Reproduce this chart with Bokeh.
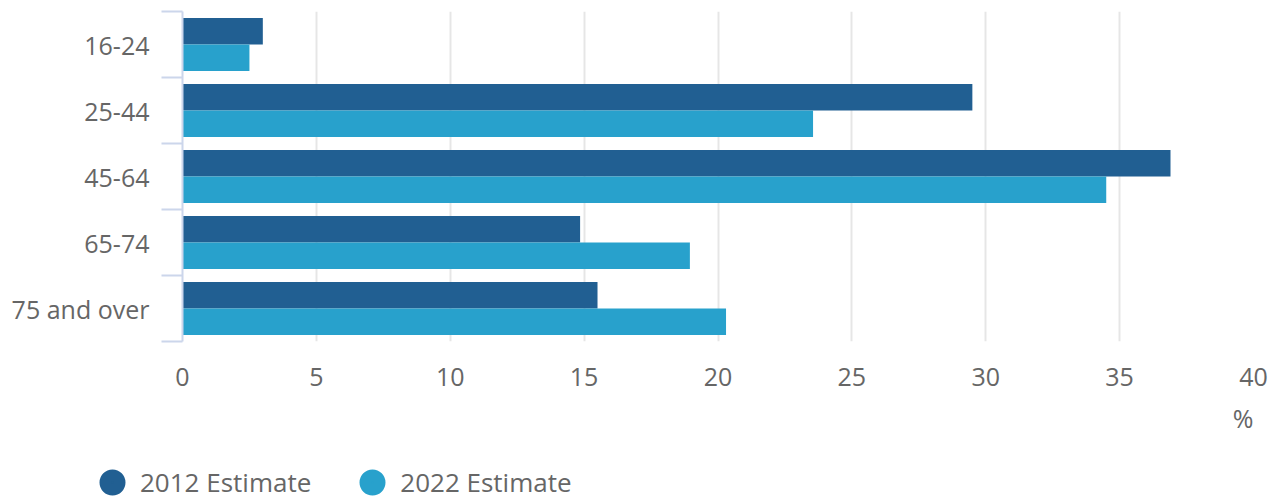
from bokeh.plotting import figure
from bokeh.models import Range1d, FixedTicker, ColumnDataSource, Legend, LegendItem, LinearAxis, Title
from bokeh.layouts import column
from bokeh.transform import dodge
from bokeh.embed import file_html
from bokeh.resources import INLINE

categories = ["16-24", "25-44", "45-64", "65-74", "75 and over"]
est_2012 = [3.0, 29.5, 36.9, 14.85, 15.5]
est_2022 = [2.5, 23.55, 34.5, 18.95, 20.3]
x_ticks = [0, 5, 10, 15, 20, 25, 30, 35, 40]
series_names = ["2012 Estimate", "2022 Estimate"]
colors = ["#215f92", "#28a1cc"]
x_unit = "%"

FONT = "Open Sans"
GREY = "#666666"
AXIS_BLUE = "#ccd6eb"

pos = [i + 0.5 for i in range(len(categories))]
src = ColumnDataSource(dict(cat=categories, y=pos, a=est_2012, b=est_2022))

p = figure(width=1275, height=450,
           x_range=Range1d(x_ticks[0], x_ticks[-1]),
           y_range=Range1d(len(categories), 0),
           output_backend="svg", toolbar_location=None,
           min_border_left=182, min_border_right=22,
           min_border_top=11, min_border_bottom=109)
p.frame_align = False
p.outline_line_color = None
p.background_fill_color = "white"

p.hbar(y=dodge('y', -0.2), left=0, right='a', height=0.4,
       fill_color=colors[0], line_color=None, source=src)
p.hbar(y=dodge('y', 0.2), left=0, right='b', height=0.4,
       fill_color=colors[1], line_color=None, source=src)

# x axis
p.xaxis.ticker = FixedTicker(ticks=x_ticks)
p.xaxis.axis_line_color = None
p.xaxis.major_tick_line_color = None
p.xaxis.minor_tick_line_color = None
p.xaxis.major_label_text_font = FONT
p.xaxis.major_label_text_font_size = "25px"
p.xaxis.major_label_text_color = GREY
p.xaxis.major_label_standoff = 20

# unit label, right-aligned under the axis end
p.add_layout(Title(text=x_unit, align="right", text_font=FONT, text_font_size="25px",
                   text_font_style="normal", text_color=GREY, standoff=20), "below")

p.xgrid.grid_line_color = "#e6e6e6"
p.xgrid.grid_line_width = 2
p.ygrid.visible = False

# y axis: boundary ticks only (inner)
bounds = list(range(len(categories) + 1))
p.yaxis.ticker = FixedTicker(ticks=bounds)
p.yaxis.major_label_overrides = {b: "" for b in bounds}
p.yaxis.axis_line_color = AXIS_BLUE
p.yaxis.axis_line_width = 2
p.yaxis.major_tick_line_color = AXIS_BLUE
p.yaxis.major_tick_line_width = 2
p.yaxis.major_tick_out = 21
p.yaxis.major_tick_in = 0
p.yaxis.minor_tick_line_color = None
p.yaxis.major_label_standoff = 0

# category labels axis (outer)
lab_axis = LinearAxis(ticker=FixedTicker(ticks=pos),
                      major_label_overrides={y: c for y, c in zip(pos, categories)},
                      axis_line_color=None, major_tick_line_color=None,
                      minor_tick_line_color=None, major_tick_out=0, major_tick_in=0,
                      major_label_standoff=12,
                      major_label_text_font=FONT, major_label_text_font_size="25px",
                      major_label_text_color=GREY)
p.add_layout(lab_axis, "left")

# legend strip (separate, unaligned figure)
lf = figure(width=1275, height=50, x_range=Range1d(0, 1), y_range=Range1d(0, 1),
            x_axis_type=None, y_axis_type=None, output_backend="svg",
            toolbar_location=None, min_border=0)
lf.frame_align = False
lf.outline_line_color = None
s1 = lf.scatter(x='a', y='y', source=src, marker="circle", size=12,
                fill_color=colors[0], line_color=colors[0], line_width=14, visible=False)
s2 = lf.scatter(x='b', y='y', source=src, marker="circle", size=12,
                fill_color=colors[1], line_color=colors[1], line_width=14, visible=False)
legend = Legend(items=[LegendItem(label=series_names[0], renderers=[s1]),
                       LegendItem(label=series_names[1], renderers=[s2])],
                orientation="horizontal", location=(97, 0),
                glyph_width=30, glyph_height=30, label_standoff=13, spacing=46,
                padding=0, margin=0, border_line_color=None,
                background_fill_alpha=0, inactive_fill_alpha=0,
                label_text_font=FONT, label_text_font_size="26px",
                label_text_color=GREY)
lf.add_layout(legend)

layout = column(p, lf, spacing=0)
open("out.html", "w").write(file_html(layout, INLINE))
